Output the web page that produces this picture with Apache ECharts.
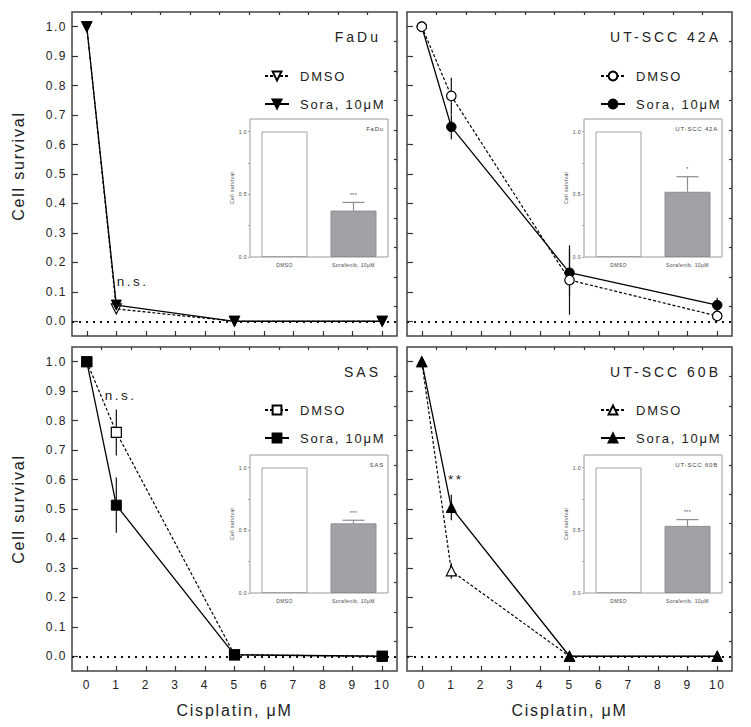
<!DOCTYPE html>
<html><head><meta charset="utf-8">
<script src="https://cdn.jsdelivr.net/npm/echarts@6/dist/echarts.min.js"></script>
<style>html,body{margin:0;padding:0;background:#fff;}#main{width:751px;height:727px;}</style>
</head><body><div id="main"></div>
<script>
// ---------------- data ----------------
const panelNames = ['FaDu', 'UT-SCC 42A', 'SAS', 'UT-SCC 60B'];
const doses = [0, 1, 5, 10];

const dmsoFaDu = [1.0, 0.042, 0.0, 0.0];
const dmsoFaDuErr = [0, 0, 0, 0];
const soraFaDu = [1.0, 0.055, 0.0, 0.0];
const soraFaDuErr = [0, 0, 0, 0];

const dmso42A = [1.0, 0.765, 0.14, 0.018];
const dmso42AErr = [0, 0.062, 0.118, 0];
const sora42A = [1.0, 0.66, 0.165, 0.055];
const sora42AErr = [0, 0.042, 0.08, 0.025];

const dmsoSAS = [1.0, 0.76, 0.005, 0.0];
const dmsoSASErr = [0, 0.078, 0, 0];
const soraSAS = [1.0, 0.513, 0.005, 0.0];
const soraSASErr = [0, 0.094, 0, 0];

const dmso60B = [1.0, 0.29, 0.0, 0.0];
const dmso60BErr = [0, 0.027, 0, 0];
const sora60B = [1.0, 0.505, 0.0, 0.0];
const sora60BErr = [0, 0.043, 0, 0];

const legendDmso = 'DMSO';
const legendSora = 'Sora, 10μM';

const insetCategories = ['DMSO', 'Sorafenib, 10μM'];
const insetFaDu = [1.0, 0.37];
const insetFaDuErr = [0, 0.065];
const inset42A = [1.0, 0.52];
const inset42AErr = [0, 0.12];
const insetSAS = [1.0, 0.555];
const insetSASErr = [0, 0.025];
const inset60B = [1.0, 0.535];
const inset60BErr = [0, 0.05];
const insetStars = ['***', '*', '***', '***'];

const xMajorTicks = [0, 1, 2, 3, 4, 5, 6, 7, 8, 9, 10];
const xMinorTicks = [0.5, 1.5, 2.5, 3.5, 4.5, 5.5, 6.5, 7.5, 8.5, 9.5];
const yMajorTicks = [0, 0.1, 0.2, 0.3, 0.4, 0.5, 0.6, 0.7, 0.8, 0.9, 1.0];
const yMinorTicks = [0.05, 0.15, 0.25, 0.35, 0.45, 0.55, 0.65, 0.75, 0.85, 0.95];
const insetYLabels = [0, 0.5, 1.0];
const insetYTicks = [0, 0.25, 0.5, 0.75, 1.0];

// annotations: panel index, text, x (dose), y (survival)
const annotPanel = [0, 2, 3];
const annotText = ['n.s.', 'n.s.', '**'];
const annotX = [1.55, 1.15, 1.15];
const annotY = [0.135, 0.885, 0.6];

// ---------------- layout / styles ----------------
const dmsoData = [dmsoFaDu, dmso42A, dmsoSAS, dmso60B];
const dmsoErr = [dmsoFaDuErr, dmso42AErr, dmsoSASErr, dmso60BErr];
const soraData = [soraFaDu, sora42A, soraSAS, sora60B];
const soraErr = [soraFaDuErr, sora42AErr, soraSASErr, sora60BErr];
const insetData = [insetFaDu, inset42A, insetSAS, inset60B];
const insetErr = [insetFaDuErr, inset42AErr, insetSASErr, inset60BErr];

const FONT = "'Liberation Sans', Arial, Helvetica, sans-serif";
const symbols = ['triangle', 'circle', 'rect', 'triangle'];
const symRot = [180, 0, 0, 0];
const symSize = [10, 9.5, 10, 10];
const mainGrids = [
  {left: 72, top: 12}, {left: 407, top: 12}, {left: 72, top: 347}, {left: 407, top: 347}
];
const insetGrids = [
  {left: 250, top: 119}, {left: 584, top: 119}, {left: 250, top: 455}, {left: 584, top: 455}
];

const grid = [], xAxis = [], yAxis = [], series = [], legend = [], title = [];
mainGrids.forEach(g => grid.push({left: g.left, top: g.top, width: 325, height: 324, show: true,
  borderColor: '#444', borderWidth: 1.5, backgroundColor: 'transparent', containLabel: false, outerBoundsMode: 'none'}));
insetGrids.forEach(g => grid.push({left: g.left, top: g.top, width: 138, height: 138, show: true,
  borderColor: '#9a9a9a', borderWidth: 1, backgroundColor: 'transparent', containLabel: false, outerBoundsMode: 'none'}));

for (let p = 0; p < 4; p++) {
  const bottomRow = p >= 2, leftCol = p % 2 === 0;
  xAxis[p] = {
    type: 'value', gridIndex: p, min: -0.5, max: 10.5,
    axisLine: {show: false, onZero: false}, splitLine: {show: false},
    axisTick: {show: true, inside: true, length: 5, customValues: xMajorTicks, lineStyle: {color: '#333', width: 1.2}},
    axisLabel: {show: bottomRow, customValues: xMajorTicks, margin: 8, fontSize: 12, color: '#222', fontFamily: FONT},
    name: bottomRow ? 'Cisplatin, μM' : '', nameLocation: 'middle', nameGap: 31, nameMoveOverlap: false,
    nameTextStyle: {fontSize: 16, color: '#222', fontFamily: FONT}
  };
  xAxis[4 + p] = {
    type: 'value', gridIndex: p, min: -0.5, max: 10.5,
    axisLine: {show: false, onZero: false}, splitLine: {show: false},
    axisTick: {show: true, inside: true, length: 3, customValues: xMinorTicks, lineStyle: {color: '#333', width: 1.2}},
    axisLabel: {show: false}
  };
  yAxis[p] = {
    type: 'value', gridIndex: p, min: -0.05, max: 1.05,
    axisLine: {show: false, onZero: false}, splitLine: {show: false},
    axisTick: {show: true, inside: true, length: 6, customValues: yMajorTicks, lineStyle: {color: '#333', width: 1.2}},
    axisLabel: {show: leftCol, customValues: yMajorTicks, margin: 5, fontSize: 12, color: '#222', fontFamily: FONT,
      formatter: v => Number(v).toFixed(1)},
    name: leftCol ? 'Cell survival' : '', nameLocation: 'middle', nameGap: 46, nameMoveOverlap: false,
    nameTextStyle: {fontSize: 16, color: '#222', fontFamily: FONT, padding: p === 0 ? [0, 0, 0, 16] : 0}
  };
  yAxis[4 + p] = {
    type: 'value', gridIndex: p, min: -0.05, max: 1.05,
    axisLine: {show: false, onZero: false}, splitLine: {show: false},
    axisTick: {show: true, inside: true, length: 3, customValues: yMinorTicks, lineStyle: {color: '#333', width: 1.2}},
    axisLabel: {show: false}
  };
  // inset axes
  xAxis[8 + p] = {
    type: 'category', gridIndex: 4 + p, data: insetCategories,
    axisLine: {show: false}, axisTick: {show: false}, splitLine: {show: false},
    axisLabel: {interval: 0, margin: 5, fontSize: 5, color: '#444', fontFamily: FONT}
  };
  yAxis[8 + p] = {
    type: 'value', gridIndex: 4 + p, min: 0, max: 1.1,
    axisLine: {show: false, onZero: false}, splitLine: {show: false},
    axisTick: {show: true, inside: false, length: 2, customValues: insetYTicks, lineStyle: {color: '#999', width: 0.8}},
    axisLabel: {customValues: insetYLabels, margin: 3, fontSize: 5, color: '#444', fontFamily: FONT,
      formatter: v => Number(v).toFixed(1)},
    name: 'Cell survival', nameLocation: 'middle', nameGap: 16, nameMoveOverlap: false,
    nameTextStyle: {fontSize: 5, color: '#444', fontFamily: FONT}
  };

  // error bars (main)
  const errPts = [];
  doses.forEach((d, j) => {
    if (dmsoErr[p][j] > 0) errPts.push([d, dmsoData[p][j], dmsoErr[p][j]]);
    if (soraErr[p][j] > 0) errPts.push([d, soraData[p][j], soraErr[p][j]]);
  });
  series.push({
    type: 'custom', xAxisIndex: p, yAxisIndex: p, z: 2, silent: true,
    data: errPts,
    renderItem: (params, api) => {
      const x = api.value(0), y = api.value(1), e = api.value(2);
      const a = api.coord([x, y - e]), b = api.coord([x, y + e]);
      return {type: 'line', shape: {x1: a[0], y1: a[1], x2: b[0], y2: b[1]}, style: {stroke: '#111', lineWidth: 1.2}};
    }
  });

  const dmsoTop = p === 1;
  series.push({
    type: 'line', name: 'DMSO#' + p, xAxisIndex: p, yAxisIndex: p,
    data: doses.map((d, j) => [d, dmsoData[p][j]]),
    symbol: symbols[p], symbolRotate: symRot[p], symbolSize: symSize[p], showAllSymbol: true,
    itemStyle: {color: '#fff', borderColor: '#000', borderWidth: 1.2},
    lineStyle: {color: '#000', width: 1.2, type: [3, 2]},
    z: dmsoTop ? 5 : 3, silent: true,
    markLine: {
      silent: true, symbol: ['none', 'none'], label: {show: false},
      lineStyle: {color: '#111', width: 2, type: [2, 5]},
      data: [{yAxis: 0}]
    }
  });
  series.push({
    type: 'line', name: 'Sora#' + p, xAxisIndex: p, yAxisIndex: p,
    data: doses.map((d, j) => [d, soraData[p][j]]),
    symbol: symbols[p], symbolRotate: symRot[p], symbolSize: symSize[p], showAllSymbol: true,
    itemStyle: {color: '#000', borderColor: '#000', borderWidth: 1},
    lineStyle: {color: '#000', width: 1.3, type: 'solid'},
    z: dmsoTop ? 3 : 5, silent: true
  });

  // annotations
  const ann = [];
  annotPanel.forEach((ap, k) => { if (ap === p) ann.push([annotX[k], annotY[k], k]); });
  if (ann.length) {
    series.push({
      type: 'custom', xAxisIndex: p, yAxisIndex: p, silent: true, z: 6,
      data: ann,
      renderItem: (params, api) => {
        const c = api.coord([api.value(0), api.value(1)]);
        return {type: 'text', style: {text: annotText[api.value(2)], x: c[0], y: c[1], align: 'center',
          verticalAlign: 'middle', fontSize: 13.5, fill: '#1a1a1a', fontFamily: FONT}};
      }
    });
  }

  // inset bars
  series.push({
    type: 'bar', xAxisIndex: 8 + p, yAxisIndex: 8 + p, barWidth: 46, silent: true,
    data: insetData[p].map((v, j) => ({
      value: v,
      itemStyle: j === 0 ? {color: '#ffffff', borderColor: '#a3a3a3', borderWidth: 1}
                         : {color: '#a2a2a6', borderColor: '#8e8e92', borderWidth: 1}
    }))
  });
  const pi = p;
  series.push({
    type: 'custom', xAxisIndex: 8 + p, yAxisIndex: 8 + p, silent: true, z: 4,
    data: insetData[p].map((v, j) => [j, v, insetErr[p][j]]).filter(d => d[2] > 0),
    renderItem: (params, api) => {
      const x = api.value(0), y = api.value(1), e = api.value(2);
      const a = api.coord([x, y]), b = api.coord([x, y + e]);
      return {type: 'group', children: [
        {type: 'line', shape: {x1: a[0], y1: a[1], x2: b[0], y2: b[1]}, style: {stroke: '#8e8e92', lineWidth: 1.2}},
        {type: 'line', shape: {x1: b[0] - 11, y1: b[1], x2: b[0] + 11, y2: b[1]}, style: {stroke: '#8e8e92', lineWidth: 1.2}},
        {type: 'text', style: {text: insetStars[pi], x: b[0], y: b[1] - 5, align: 'center', verticalAlign: 'bottom',
          fontSize: 5, fill: '#444', fontFamily: FONT}}
      ]};
    }
  });

  // legends
  legend.push({
    data: ['DMSO#' + p, 'Sora#' + p], orient: 'vertical',
    left: leftCol ? 264 : 600, top: bottomRow ? 403.5 : 69.5,
    itemWidth: 24, itemHeight: 11, itemGap: 15, padding: 0, selectedMode: false,
    formatter: n => n.indexOf('DMSO') === 0 ? legendDmso : legendSora,
    textStyle: {fontSize: 13, color: '#222', fontFamily: FONT, padding: [0, 0, 0, 6]}
  });

  // titles (right-aligned: left = right edge of text)
  title.push({
    text: panelNames[p], textAlign: 'right', left: leftCol ? 381 : 721, top: bottomRow ? 365 : 30, padding: 0,
    textStyle: {fontSize: 14, fontWeight: 'normal', color: '#222', fontFamily: FONT}
  });
  title.push({
    text: panelNames[p], textAlign: 'right', left: leftCol ? 384 : 718, top: bottomRow ? 462 : 126, padding: 0,
    textStyle: {fontSize: 6, fontWeight: 'normal', color: '#444', fontFamily: FONT}
  });
}

const chart = echarts.init(document.getElementById('main'), null, {renderer: 'svg', width: 751, height: 727});
chart.setOption({
  animation: false,
  backgroundColor: '#fff',
  textStyle: {fontFamily: FONT},
  title, legend, grid, xAxis, yAxis, series
});

const spacingBySize = {16: 1.8, 14: 3, 13.5: 2.5, 13: 1.8, 12: 1.5, 6: 0.8, 5: 0.4};
function applySpacing() {
  document.querySelectorAll('#main svg text').forEach(t => {
    const fs = parseFloat(getComputedStyle(t).fontSize);
    const ls = spacingBySize[fs];
    if (ls !== undefined) t.setAttribute('letter-spacing', ls + 'px');
  });
}
chart.on('finished', applySpacing);
applySpacing();
setTimeout(applySpacing, 50);
</script>
</body></html>
